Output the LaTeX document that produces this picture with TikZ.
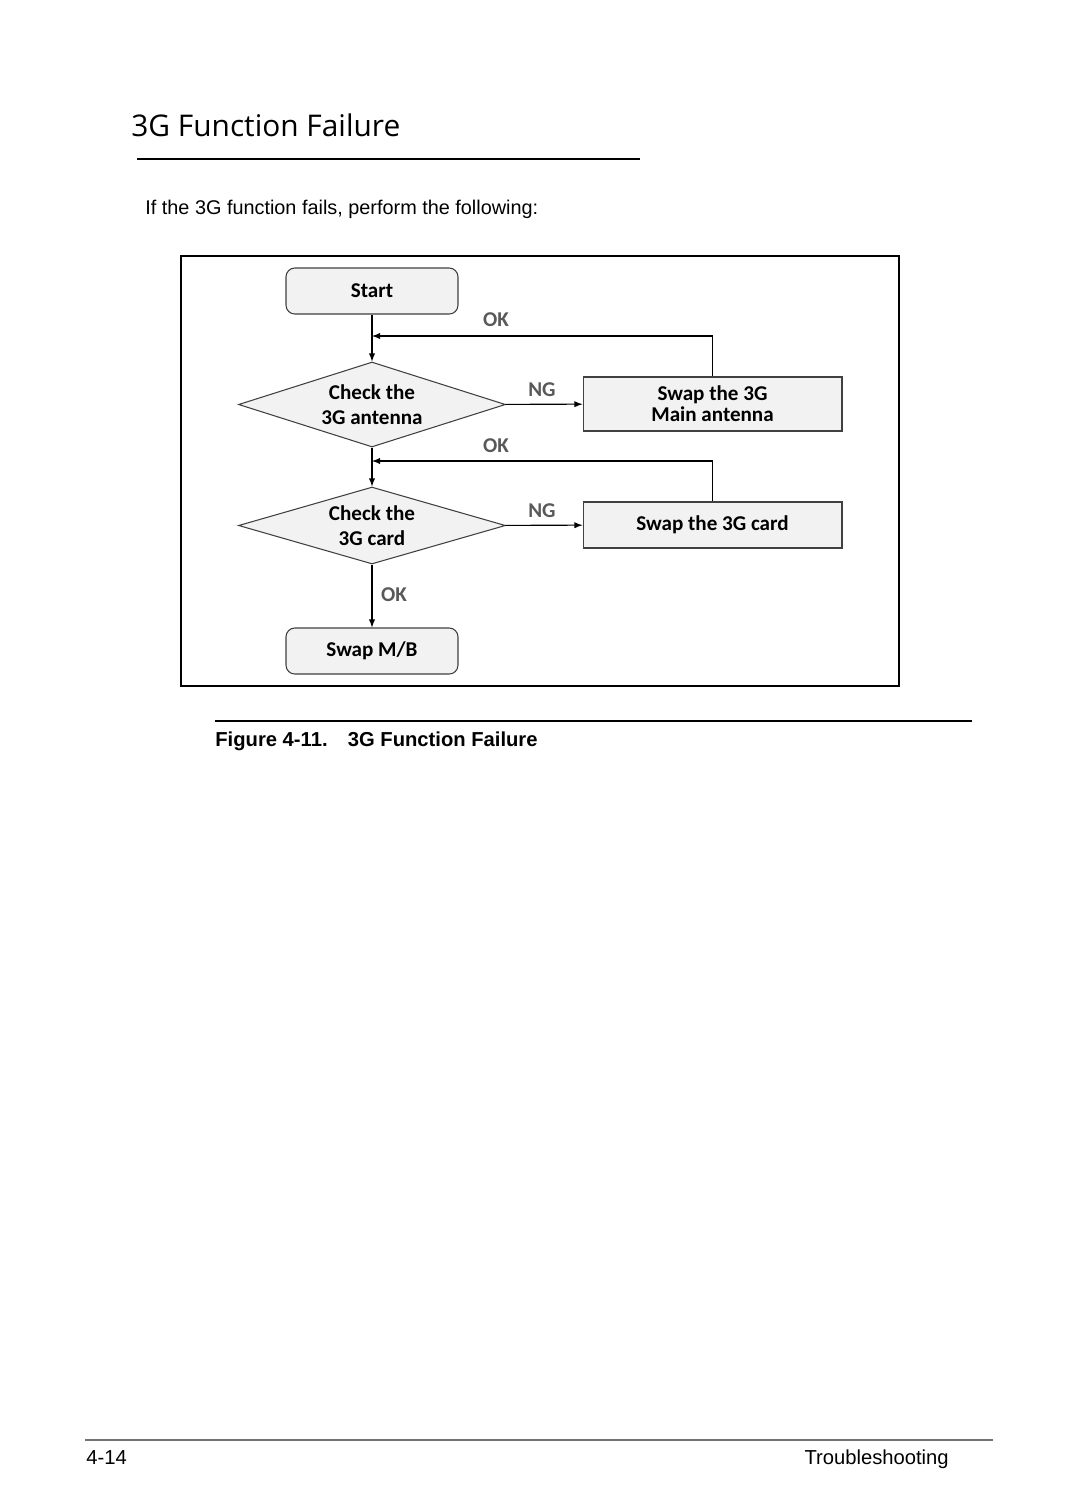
\documentclass[tikz,border=0pt]{standalone}
\usepackage{fontspec}
\setmainfont{Liberation Sans}
\newfontfamily\carlito[Ligatures=NoCommon]{Carlito}
\newfontfamily\headfont{Open Sans}
\usetikzlibrary{arrows,shapes.geometric}
\definecolor{boxfill}{HTML}{F2F2F2}
\definecolor{boxline}{HTML}{404040}
\definecolor{labelgray}{HTML}{595959}

\begin{document}
\begin{tikzpicture}[x=0.02cm,y=-0.02cm]
\tikzstyle{term}=[rectangle,rounded corners=5pt,draw=boxline,fill=boxfill,line width=0.6pt,minimum width=3.44cm,minimum height=0.92cm,font=\carlito\bfseries\fontsize{12}{14}\selectfont]
\tikzstyle{check}=[diamond,draw=boxline,fill=boxfill,line width=0.6pt,inner sep=0pt,minimum width=5.34cm,align=center,font=\carlito\bfseries\fontsize{12}{14.5}\selectfont]
\tikzstyle{swap}=[rectangle,draw=boxline,fill=boxfill,line width=0.6pt,minimum width=5.18cm,align=center,font=\carlito\bfseries\fontsize{12}{12}\selectfont]
\tikzstyle{answer}=[text=labelgray,inner sep=0pt,font=\carlito\bfseries\fontsize{12}{14}\selectfont]
\tikzstyle{flow}=[-latex,line width=0.6pt]
\tikzstyle{pagetext}=[anchor=base west,inner sep=0pt]
\fill[white] (0,0) rectangle (1080,1512);
\useasboundingbox (0,0) rectangle (1080,1512);
\node[pagetext,font=\headfont\fontsize{17}{20}\selectfont] (title) at (131,136) {3G Function Failure};
\draw[line width=1.2pt] (137,159) -- (640,159);
\node[pagetext,font=\fontsize{11.3}{13}\selectfont] (intro) at (145,214) {If the 3G function fails, perform the following:};
\draw[line width=1.5pt] (181,256) rectangle (899,686);
\node[term] (start) at (372,291) {Start};
\node[check,shape aspect=3.14,minimum height=1.7cm] (check1) at (372,404.5) {Check the\\3G antenna};
\node[swap,minimum height=1.08cm] (swap1) at (712.5,404) {Swap the 3G\\Main antenna};
\node[check,shape aspect=3.47,minimum height=1.54cm] (check2) at (372,525.5) {Check the\\3G card};
\node[swap,minimum height=0.92cm] (swap2) at (712.5,525) {\raisebox{-2pt}{Swap the 3G card}};
\node[term] (mb) at (372,651) {Swap M/B};
\coordinate (join1) at (372,336);
\coordinate (join2) at (372,461);
\draw[flow] (start) -- (check1);
\draw[flow] (swap1.north) |- (join1);
\draw[flow] (check1) -- (swap1);
\draw[flow] (check1) -- (check2);
\draw[flow] (swap2.north) |- (join2);
\draw[flow] (check2) -- (swap2);
\draw[flow] (check2) -- (mb);
\node[answer] (ok1) at (496,320) {OK};
\node[answer] (ng1) at (542,390) {NG};
\node[answer] (ok2) at (496,446) {OK};
\node[answer] (ng2) at (542,511) {NG};
\node[answer] (ok3) at (394,595) {OK};
\draw[line width=0.6pt] (215,721) -- (972,721);
\node[pagetext,font=\bfseries\fontsize{11.5}{13}\selectfont] (caption) at (215,746) {Figure 4-11.\hspace{1em}3G Function Failure};
\draw[black!55,line width=1.2pt] (85,1440) -- (993,1440);
\node[pagetext,font=\fontsize{11.5}{13}\selectfont] (pagenum) at (86,1464) {4-14};
\node[pagetext,anchor=base east,font=\fontsize{11.5}{13}\selectfont] (chapter) at (949,1464) {Troubleshooting};
\end{tikzpicture}
\end{document}
